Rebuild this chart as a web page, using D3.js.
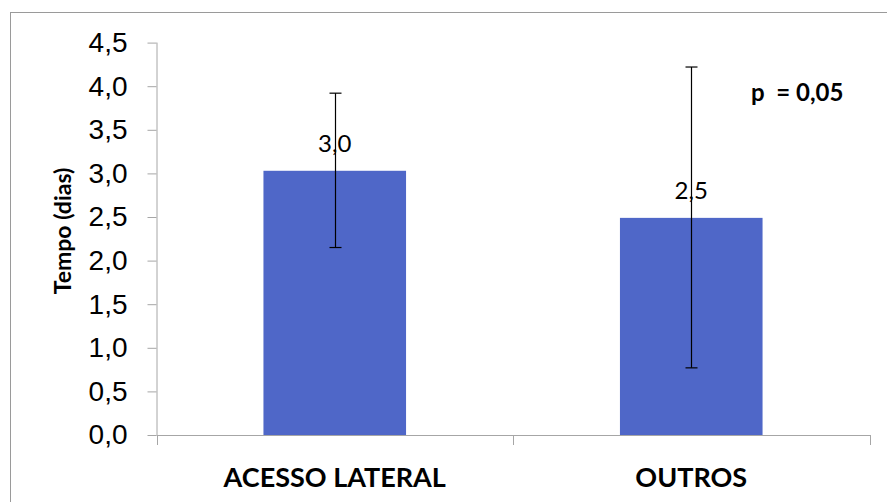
<!DOCTYPE html>
<html>
<head>
<meta charset="utf-8">
<script src="https://cdn.jsdelivr.net/npm/d3@7"></script>
<style>
  html, body { margin: 0; padding: 0; background: #fff; }
  svg { display: block; }
</style>
</head>
<body>
<svg id="chart" width="887" height="502"></svg>
<script>
// data
const categories = ["ACESSO LATERAL", "OUTROS"];
const means = [3.03, 2.49];
const meanLabels = ["3,0", "2,5"];
const errLow = [2.15, 0.77];
const errHigh = [3.92, 4.22];
const yTicks = [0, 0.5, 1, 1.5, 2, 2.5, 3, 3.5, 4, 4.5];
const yTitle = "Tempo (dias)";
const pText = "p  = 0,05";

const svg = d3.select("#chart");
const width = +svg.attr("width");
const height = +svg.attr("height");

const plotLeft = 156.5, plotRight = 869.5, plotTop = 42.6, plotBottom = 435;

// chart frame (only top and left sides fall inside the picture)
svg.append("rect")
  .attr("x", 10.5).attr("y", 12.5)
  .attr("width", width).attr("height", height)
  .attr("fill", "none")
  .attr("stroke", "#9a9a9a")
  .attr("stroke-width", 1);

const y = d3.scaleLinear().domain([0, 4.5]).range([plotBottom, plotTop]);
const x = d3.scaleBand().domain(categories).range([plotLeft, plotRight])
  .paddingInner(0.6).paddingOuter(0.3);

const rows = categories.map((c, i) => ({
  cat: c, mean: means[i], label: meanLabels[i], lo: errLow[i], hi: errHigh[i]
}));

// y axis
const yAxis = svg.append("g")
  .attr("transform", `translate(${plotLeft},0)`)
  .call(d3.axisLeft(y)
    .tickValues(yTicks)
    .tickSize(9)
    .tickPadding(20)
    .tickFormat(d => d3.format(".1f")(d).replace(".", ",")));
yAxis.select(".domain").attr("stroke", "#a6a6a6").attr("d", `M0.5,${plotTop}V${plotBottom}`);
yAxis.selectAll(".tick line").attr("stroke", "#a6a6a6");
yAxis.selectAll(".tick text")
  .attr("fill", "#000")
  .style("font-family", "'Liberation Sans', Arial, sans-serif")
  .style("font-size", "28px");

// bars
svg.append("g").selectAll("rect")
  .data(rows)
  .enter()
  .append("rect")
  .attr("x", d => x(d.cat))
  .attr("y", d => y(d.mean))
  .attr("width", x.bandwidth())
  .attr("height", d => y(0) - y(d.mean))
  .attr("fill", "#4f67c8");

// x axis line with ticks between categories
const xLine = svg.append("g");
xLine.append("line")
  .attr("x1", plotLeft).attr("x2", plotRight + 0.5)
  .attr("y1", plotBottom + 0.5).attr("y2", plotBottom + 0.5)
  .attr("stroke", "#a6a6a6");
const bounds = [plotLeft, ...categories.slice(1).map(c => x(c) - x.step() * x.paddingInner() / 2), plotRight];
xLine.selectAll(".xtick")
  .data(bounds)
  .enter()
  .append("line")
  .attr("class", "xtick")
  .attr("x1", d => Math.round(d) + 0.5).attr("x2", d => Math.round(d) + 0.5)
  .attr("y1", plotBottom).attr("y2", plotBottom + 10)
  .attr("stroke", "#a6a6a6");

// x labels
svg.append("g").selectAll("text")
  .data(rows)
  .enter()
  .append("text")
  .attr("x", d => x(d.cat) + x.bandwidth() / 2)
  .attr("y", 487)
  .attr("text-anchor", "middle")
  .style("font-family", "Lato, 'Open Sans', sans-serif")
  .style("font-weight", "bold")
  .style("font-size", "27px")
  .text(d => d.cat);

// error bars
const err = svg.append("g").attr("stroke", "#000").attr("stroke-width", 1.2);
rows.forEach(d => {
  const cx = Math.round(x(d.cat) + x.bandwidth() / 2) + 0.5;
  err.append("line").attr("x1", cx).attr("x2", cx).attr("y1", y(d.hi)).attr("y2", y(d.lo));
  err.append("line").attr("x1", cx - 6).attr("x2", cx + 6).attr("y1", y(d.hi)).attr("y2", y(d.hi));
  err.append("line").attr("x1", cx - 6).attr("x2", cx + 6).attr("y1", y(d.lo)).attr("y2", y(d.lo));
});

// value labels
svg.append("g").selectAll("text")
  .data(rows)
  .enter()
  .append("text")
  .attr("x", d => x(d.cat) + x.bandwidth() / 2)
  .attr("y", d => y(d.mean) - 19)
  .attr("text-anchor", "middle")
  .style("font-family", "Lato, 'Open Sans', sans-serif")
  .style("font-size", "24px")
  .text(d => d.label);

// y title
svg.append("text")
  .attr("transform", `translate(71,231) rotate(-90)`)
  .attr("text-anchor", "middle")
  .style("font-family", "Lato, 'Open Sans', sans-serif")
  .style("font-weight", "bold")
  .style("font-size", "23px")
  .text(yTitle);

// p value note
svg.append("text")
  .attr("x", 751)
  .attr("y", 101)
  .style("font-family", "Lato, 'Open Sans', sans-serif")
  .style("font-weight", "bold")
  .style("font-size", "24px")
  .style("white-space", "pre")
  .attr("xml:space", "preserve")
  .text(pText);
</script>
</body>
</html>
